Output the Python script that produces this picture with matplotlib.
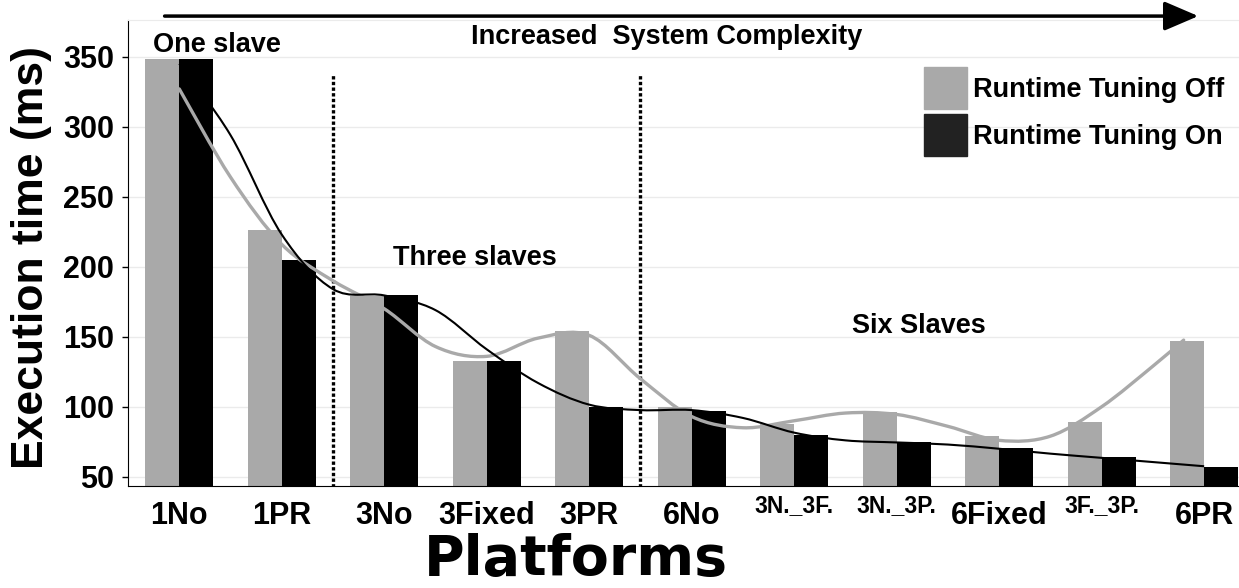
import numpy as np
import matplotlib.pyplot as plt
from matplotlib.path import Path
from matplotlib.patches import PathPatch, Patch

plt.rcParams['font.family'] = ['Liberation Sans', 'DejaVu Sans']
plt.rcParams['font.weight'] = 'bold'

# Data
platforms = ['1No', '1PR', '3No', '3Fixed', '3PR', '6No',
             '3N._3F.', '3N._3P.', '6Fixed', '3F._3P.', '6PR']
small_labels = ['3N._3F.', '3N._3P.', '3F._3P.']
tuning_off = [348, 226, 179, 133, 154, 100, 88, 96.5, 79, 89, 147]
tuning_on = [348, 205, 179.5, 133, 99.5, 97, 80, 74.7, 70.5, 64, 57]

# smoothed trend curves, read at every half step
trend_off_x = [0, 0.5, 1, 1.5, 2, 2.5, 3, 3.5, 4, 4.5, 5, 5.5, 6, 6.5, 7, 7.5, 8, 8.5, 9, 9.5, 9.8]
trend_off_y = [327, 264, 216, 190, 170, 143, 136, 149, 151, 120, 93, 85, 90, 95.5, 94.5, 86, 76, 79, 100, 129, 147.6]
trend_on_x = [0, 0.5, 1, 1.5, 2, 2.5, 3, 3.5, 4, 4.5, 5, 5.5, 6, 6.5, 7, 7.5, 8, 8.5, 9, 9.5, 10]
trend_on_y = [345, 294, 223, 184, 179.5, 169, 141, 117, 101.5, 97.6, 97.6, 92, 81.5, 76, 74.5, 73, 70, 66.5, 63.5, 60.5, 57.5]

group_breaks = [1.5, 4.5]
yticks = [50, 100, 150, 200, 250, 300, 350]


def smooth_path(xs, ys):
    # Catmull-Rom through the points, as cubic Bezier segments
    pts = np.column_stack([xs, ys]).astype(float)
    ext = np.vstack([pts[0], pts, pts[-1]])
    verts = [pts[0]]
    codes = [Path.MOVETO]
    for i in range(1, len(ext) - 2):
        p0, p1, p2, p3 = ext[i - 1], ext[i], ext[i + 1], ext[i + 2]
        verts += [p1 + (p2 - p0) / 6, p2 - (p3 - p1) / 6, p2]
        codes += [Path.CURVE4] * 3
    return Path(verts, codes)


fig = plt.figure(figsize=(12.39, 5.88), dpi=100)
ax = fig.add_axes([128 / 1239, 1 - 486 / 588, 1 - 128 / 1239, (486 - 20) / 588])

x = np.arange(len(platforms))
w = 0.333
gray = '#a9a9a9'
ax.bar(x - w / 2, tuning_off, w, color=gray, zorder=2)
ax.bar(x + w / 2, tuning_on, w, color='black', zorder=2)

ax.add_patch(PathPatch(smooth_path(trend_off_x, trend_off_y), fill=False,
                       edgecolor=gray, lw=2.4, zorder=4, capstyle='round'))
ax.add_patch(PathPatch(smooth_path(trend_on_x, trend_on_y), fill=False,
                       edgecolor='black', lw=1.5, zorder=4))

for b in group_breaks:
    ax.plot([b, b], [43, 337], color='black', lw=2.4, ls=(0, (1, 0.7)), zorder=3)

ax.set_xlim(-0.5, 10.34)
ax.set_ylim(43.4, 376.2)
ax.set_yticks(yticks)
ax.set_yticklabels([str(v) for v in yticks], fontsize=22)
ax.tick_params(axis='y', length=4, width=1, pad=6)
ax.set_xticks(x)
ax.set_xticklabels(platforms)
ax.tick_params(axis='x', length=0)
for tick, name in zip(ax.xaxis.get_major_ticks(), platforms):
    if name in small_labels:
        tick.label1.set_fontsize(16.5)
        tick.set_pad(6)
    else:
        tick.label1.set_fontsize(22)
        tick.set_pad(11)

ax.grid(axis='y', color='#ebebeb', lw=1, zorder=0)
ax.set_axisbelow(True)
ax.spines['right'].set_visible(False)
ax.spines['top'].set_color('#ebebeb')

# annotations
ax.text(-0.26, 353, 'One slave', fontsize=19.5, ha='left', va='baseline')
ax.text(2.88, 201, 'Three slaves', fontsize=19.5, ha='center', va='baseline')
ax.text(7.22, 152.6, 'Six Slaves', fontsize=19.5, ha='center', va='baseline')
ax.text(4.76, 359, 'Increased  System Complexity', fontsize=19.5, ha='center', va='baseline')
ax.annotate('', xy=(9.97, 379), xytext=(-0.17, 379), annotation_clip=False,
            arrowprops=dict(arrowstyle='-|>,head_length=0.7,head_width=0.3',
                            color='black', lw=2.5, mutation_scale=30))

fig.text(32 / 1239, 1 - 258 / 588, 'Execution time (ms)', rotation=90,
         fontsize=32, ha='center', va='center')
fig.text(576 / 1239, 1 - 575 / 588, 'Platforms', fontsize=40,
         family='DejaVu Sans', ha='center', va='baseline')

handles = [Patch(color=gray), Patch(color='#222222')]
fig.legend(handles, ['Runtime Tuning Off', 'Runtime Tuning On'],
           loc='upper left', bbox_to_anchor=(924 / 1239, 1 - 67 / 588),
           frameon=False, fontsize=19.5, handlelength=1.6, handleheight=2.0,
           handletextpad=0.2, labelspacing=0.2, borderpad=0, borderaxespad=0)

fig.savefig('out.png', dpi=100)
